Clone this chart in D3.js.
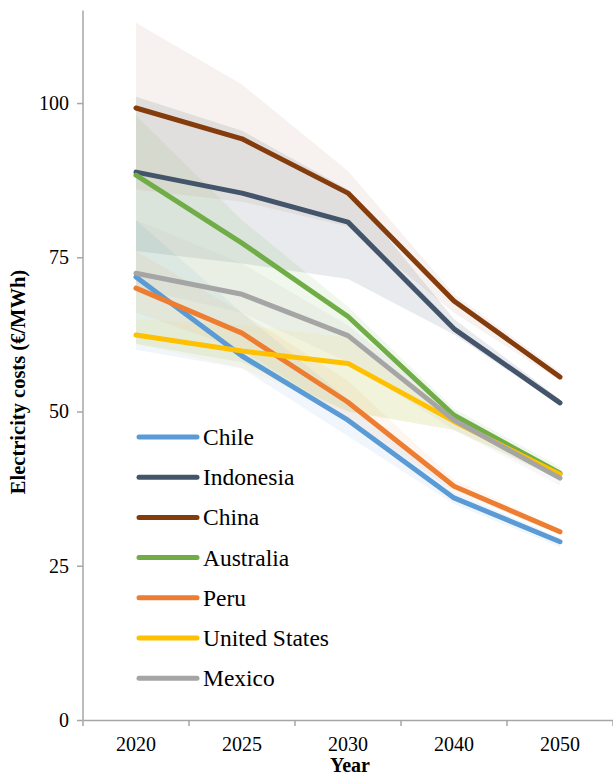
<!DOCTYPE html>
<html>
<head>
<meta charset="utf-8">
<script src="https://cdn.jsdelivr.net/npm/d3@7/dist/d3.min.js"></script>
<style>
  html, body { margin: 0; padding: 0; background: #fff; }
</style>
</head>
<body>
<svg id="chart" width="613" height="778"></svg>
<script>
// Projected electricity costs (€/MWh) by country, with min–max ranges
const years = ["2020", "2025", "2030", "2040", "2050"];
const countries = ["Chile", "Indonesia", "China", "Australia", "Peru", "United States", "Mexico"];
const colors = ["#5B9BD5", "#44546A", "#843C0C", "#70AD47", "#ED7D31", "#FFC000", "#A5A5A5"];

const chile      = [71.8, 59.0, 48.6, 36.0, 28.9];
const indonesia  = [88.8, 85.4, 80.7, 63.4, 51.4];
const china      = [99.2, 94.2, 85.4, 67.9, 55.6];
const australia  = [88.3, 77.3, 65.4, 49.4, 40.0];
const peru       = [70.0, 62.7, 51.5, 37.9, 30.5];
const unitedStates = [62.4, 59.8, 57.8, 48.4, 39.8];
const mexico     = [72.4, 69.0, 62.3, 48.6, 39.2];

// Range bands (upper / lower bounds)
const chileHigh  = [81, 66, 52, 37, 29.5];
const chileLow   = [60, 57, 46, 35, 28];
const indonesiaHigh = [101, 95.5, 86, 65, 52];
const indonesiaLow  = [76, 74, 71.5, 62.5, 51];
const chinaHigh  = [113, 103, 89, 69, 56.5];
const chinaLow   = [86, 84, 80, 66, 55];
const australiaHigh = [98, 81, 67, 50.5, 41];
const australiaLow  = [61, 58, 50, 47, 39];
const peruHigh   = [76, 66, 55, 39, 31];
const peruLow    = [66, 60, 49, 37, 30];
const unitedStatesHigh = [65, 64, 62, 49.5, 40.5];
const unitedStatesLow  = [61, 57, 50, 47, 39];
const mexicoHigh = [81, 74, 64, 50, 40];
const mexicoLow  = [70, 66, 58, 47, 38];

const yTicks = [0, 25, 50, 75, 100];

const seriesValues = [chile, indonesia, china, australia, peru, unitedStates, mexico];
const seriesHigh = [chileHigh, indonesiaHigh, chinaHigh, australiaHigh, peruHigh, unitedStatesHigh, mexicoHigh];
const seriesLow  = [chileLow, indonesiaLow, chinaLow, australiaLow, peruLow, unitedStatesLow, mexicoLow];
const bandOpacity = [0.09, 0.12, 0.065, 0.1, 0.07, 0.07, 0.09];

const serif = "'Liberation Serif', 'Times New Roman', 'DejaVu Serif', serif";

const svg = d3.select("#chart").attr("font-family", serif);
const plotLeft = 83, plotRight = 613, plotTop = 10.5, plotBottom = 720;

const x = d3.scaleBand().domain(years).range([plotLeft, plotRight]).padding(0);
const y = d3.scaleLinear().domain([0, 115]).range([plotBottom, plotTop]);
const cx = d => x(d) + x.bandwidth() / 2;

// Shaded ranges
const area = d3.area()
  .x((d, i) => cx(years[i]))
  .y0(d => y(d[0]))
  .y1(d => y(d[1]));

countries.forEach((c, k) => {
  const pts = years.map((yr, i) => [seriesLow[k][i], seriesHigh[k][i]]);
  svg.append("path")
    .datum(pts)
    .attr("d", area)
    .attr("fill", colors[k])
    .attr("fill-opacity", bandOpacity[k])
    .attr("stroke", "none");
});

// Central lines
const line = d3.line()
  .x((d, i) => cx(years[i]))
  .y(d => y(d));

countries.forEach((c, k) => {
  svg.append("path")
    .datum(seriesValues[k])
    .attr("d", line)
    .attr("fill", "none")
    .attr("stroke", colors[k])
    .attr("stroke-width", 5)
    .attr("stroke-linejoin", "round")
    .attr("stroke-linecap", "round");
});

// Axes
const axisColor = "#a6a6a6";
const yAxis = svg.append("g")
  .attr("transform", `translate(${plotLeft},0)`)
  .call(d3.axisLeft(y).tickValues(yTicks).tickSize(6).tickPadding(8));
yAxis.attr("font-family", serif).attr("font-size", 20);
yAxis.select(".domain").attr("stroke", axisColor).attr("stroke-width", 1.5)
  .attr("d", `M0,${plotTop}V${plotBottom}`);
yAxis.selectAll(".tick line").attr("stroke", axisColor).attr("stroke-width", 1.5);
yAxis.selectAll(".tick text").attr("fill", "#000");

const xAxis = svg.append("g")
  .attr("transform", `translate(0,${plotBottom})`)
  .call(d3.axisBottom(x).tickSize(0).tickPadding(17));
xAxis.attr("font-family", serif).attr("font-size", 20);
xAxis.select(".domain").attr("stroke", axisColor).attr("stroke-width", 1.5);
xAxis.selectAll(".tick text").attr("fill", "#000");

// Category boundary ticks
const boundaries = years.map(d => x(d)).concat([x(years[years.length - 1]) + x.bandwidth()]);
svg.append("g").selectAll("line")
  .data(boundaries)
  .join("line")
  .attr("x1", d => d).attr("x2", d => d)
  .attr("y1", plotBottom).attr("y2", plotBottom + 6)
  .attr("stroke", axisColor)
  .attr("stroke-width", 1.5);

// Axis titles
svg.append("text")
  .attr("x", 350).attr("y", 772)
  .attr("text-anchor", "middle")
  .attr("font-family", serif)
  .attr("font-weight", "bold")
  .attr("font-size", 20)
  .text("Year");

svg.append("text")
  .attr("transform", `translate(25,382) rotate(-90)`)
  .attr("text-anchor", "middle")
  .attr("font-family", serif)
  .attr("font-weight", "bold")
  .attr("font-size", 20.5)
  .text("Electricity costs (€/MWh)");

// Legend
const legend = svg.append("g");
countries.forEach((c, k) => {
  const ly = 437 + k * 40.2;
  legend.append("line")
    .attr("x1", 139).attr("x2", 197)
    .attr("y1", ly).attr("y2", ly)
    .attr("stroke", colors[k])
    .attr("stroke-width", 5)
    .attr("stroke-linecap", "round");
  legend.append("text")
    .attr("x", 203).attr("y", ly + 8)
    .attr("font-family", serif)
    .attr("font-size", 23.5)
    .attr("fill", "#000")
    .text(c);
});
</script>
</body>
</html>
